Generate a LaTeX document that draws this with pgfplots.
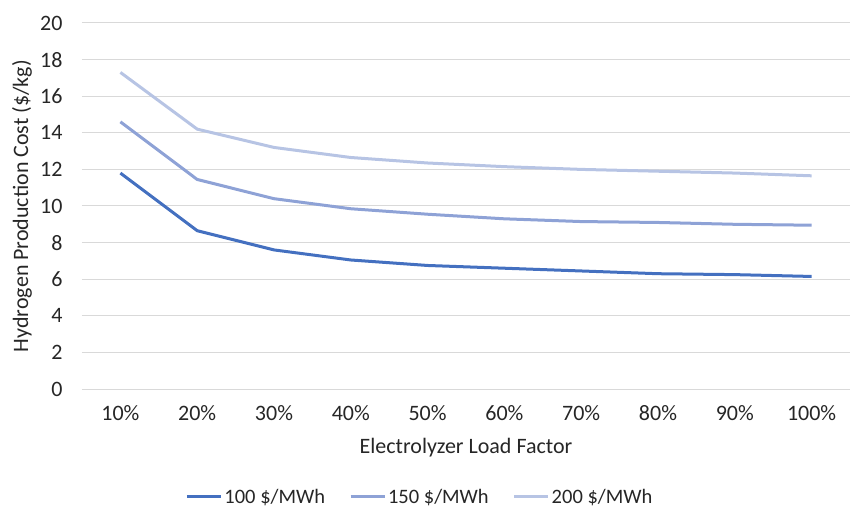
\documentclass[border=0pt]{standalone}
\usepackage{fontspec}
\setmainfont{Carlito}
\usepackage{pgfplots}
\pgfplotsset{compat=1.18}
\definecolor{cA}{HTML}{4470C0}
\definecolor{cB}{HTML}{8EA2D6}
\definecolor{cC}{HTML}{B7C4E4}
\definecolor{gridc}{HTML}{D9D9D9}
\definecolor{txt}{HTML}{262626}
\begin{document}
\begin{tikzpicture}
\path (-82bp,-123bp) rectangle (769bp,389bp);
\begin{axis}[
  at={(0,0)}, anchor=south west,
  scale only axis,
  width=768bp, height=366bp,
  xmin=-0.5, xmax=9.5,
  ymin=0, ymax=20,
  xtick={0,...,9},
  xticklabels={10\%,20\%,30\%,40\%,50\%,60\%,70\%,80\%,90\%,100\%},
  ytick={0,2,...,20},
  ymajorgrids,
  grid style={gridc, line width=1bp},
  axis line style={draw=none},
  tick style={draw=none},
  font=\fontsize{22bp}{26bp}\selectfont,
  every tick label/.append style={font=\fontsize{22bp}{26bp}\selectfont, text=txt},
  /pgf/number format/assume math mode=true,
  xticklabel style={anchor=center, yshift=-24bp},
  yticklabel style={anchor=east, xshift=-16bp},
  xlabel={Electrolyzer Load Factor},
  ylabel={Hydrogen Production Cost (\$/kg)},
  label style={text=txt},
  xlabel style={at={(axis description cs:0.5,-0.161)}, anchor=center},
  ylabel style={at={(axis description cs:-0.078,0.5)}, anchor=center, rotate=0},
  legend style={at={(0.440,-0.295)}, anchor=center, draw=none, legend columns=3,
    font=\fontsize{20.5bp}{24bp}\selectfont, text=txt,
    /tikz/every even column/.append style={column sep=22bp}},
  legend image code/.code={\draw[#1, line width=3bp] (0bp,0bp) -- (34bp,0bp);},
]
\addplot[cA, line width=3bp] coordinates {(0,11.8) (1,8.65) (2,7.6) (3,7.05) (4,6.75) (5,6.6) (6,6.45) (7,6.3) (8,6.25) (9,6.15)};
\addlegendentry{100 \$/MWh}
\addplot[cB, line width=3bp] coordinates {(0,14.6) (1,11.45) (2,10.4) (3,9.85) (4,9.55) (5,9.3) (6,9.15) (7,9.1) (8,9.0) (9,8.95)};
\addlegendentry{150 \$/MWh}
\addplot[cC, line width=3bp] coordinates {(0,17.3) (1,14.2) (2,13.2) (3,12.65) (4,12.35) (5,12.15) (6,12.0) (7,11.9) (8,11.8) (9,11.65)};
\addlegendentry{200 \$/MWh}
\end{axis}
\end{tikzpicture}
\end{document}
